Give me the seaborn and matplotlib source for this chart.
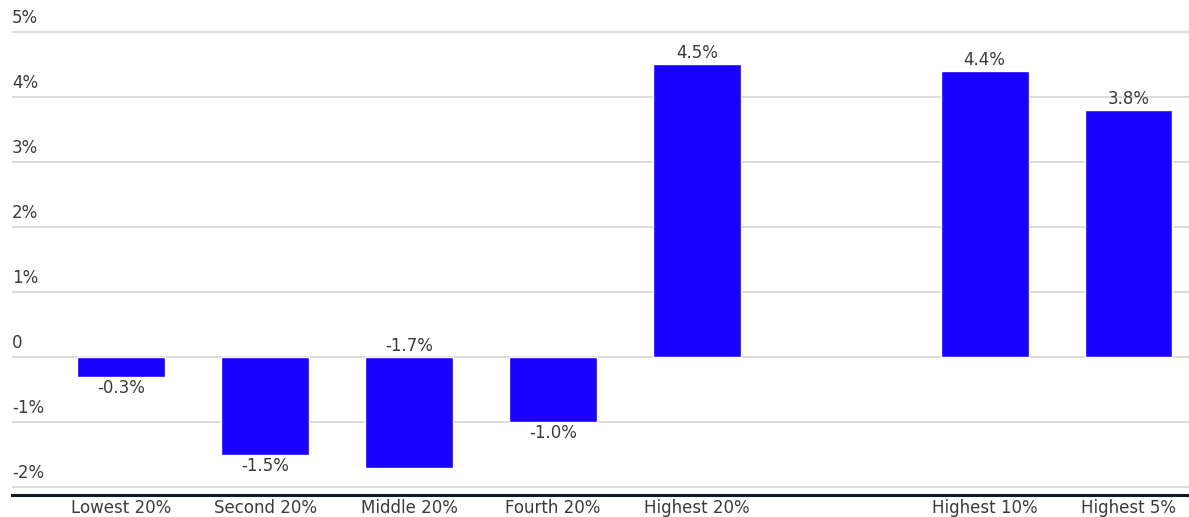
import matplotlib
matplotlib.use("Agg")
import matplotlib.pyplot as plt
import matplotlib.transforms as mtransforms
import seaborn as sns
import pandas as pd

categories = ["Lowest 20%", "Second 20%", "Middle 20%", "Fourth 20%", "Highest 20%",
              "Highest 10%", "Highest 5%"]
values = [-0.3, -1.5, -1.7, -1.0, 4.5, 4.4, 3.8]
# slot order, with an empty gap between the quintiles and the top groups
order = ["Lowest 20%", "Second 20%", "Middle 20%", "Fourth 20%", "Highest 20%", " ",
         "Highest 10%", "Highest 5%"]
label_at_zero = [False, False, True, False, False, False, False]
yticks = [-2, -1, 0, 1, 2, 3, 4, 5]
ytick_labels = ["-2%", "-1%", "0", "1%", "2%", "3%", "4%", "5%"]

df = pd.DataFrame({"group": categories, "change": values})

sns.set_style("white")
plt.rcParams["font.family"] = ["DejaVu Sans"]
text_color = "#3a3a3a"
fs = 12

fig = plt.figure(figsize=(11.89, 5.17), dpi=100)
ax = fig.add_axes([12 / 1189, 22 / 517, 1 - 12 / 1189, 1 - 22 / 517])

sns.barplot(data=df, x="group", y="change", order=order, color="#1a00ff",
            saturation=1, width=0.61, ax=ax, zorder=3)

ax.set_xlim(-0.76, 7.42)
ax.set_ylim(-2.12, 5.49)

# gridlines + tick labels sitting above them
ax.set_yticks(yticks)
ax.set_yticklabels([])
ax.tick_params(axis="y", length=0)
ax.yaxis.grid(True, color="#d9d9d9", linewidth=1.3, zorder=0)
trans = mtransforms.blended_transform_factory(ax.transAxes, ax.transData)
for t, lab in zip(yticks, ytick_labels):
    ax.text(0, t + 0.08, lab, transform=trans, ha="left", va="bottom",
            fontsize=fs, color=text_color)

for s in ["top", "right", "left"]:
    ax.spines[s].set_visible(False)
ax.spines["bottom"].set_color("#0d1b2a")
ax.spines["bottom"].set_linewidth(2.2)

ax.set_xlabel("")
ax.set_ylabel("")
ax.tick_params(axis="x", length=0, pad=3, labelsize=fs, labelcolor=text_color)

# value labels
for cat, v, at_zero in zip(categories, values, label_at_zero):
    x = order.index(cat)
    if v >= 0 or at_zero:
        y, va = (max(v, 0) + 0.03), "bottom"
    else:
        y, va = v - 0.03, "top"
    ax.text(x, y, f"{v:.1f}%", ha="center", va=va, fontsize=fs, color=text_color)

fig.savefig("out.png", dpi=100)
